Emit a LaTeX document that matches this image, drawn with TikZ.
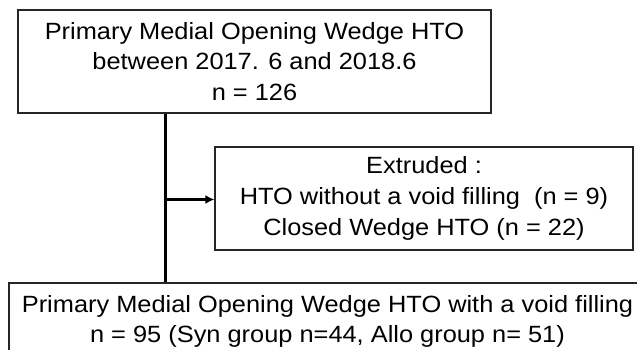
\documentclass[tikz,border=0pt]{standalone}
\usepackage{fontspec}
\setmainfont[FakeStretch=1.08]{Liberation Sans}
\usetikzlibrary{arrows.meta}
\begin{document}
\begin{tikzpicture}[x=1pt,y=1pt,
  box/.style={draw=black!85, line width=1.2pt, align=center, inner sep=0pt,
    font=\fontsize{23.5}{30.8}\selectfont},
  vconn/.style={line width=3pt},
  hconn/.style={line width=3pt}]
\useasboundingbox (0,0) rectangle (637,350);
\clip (0,0) rectangle (637,350);
\node[box, minimum width=473, minimum height=103] (top) at (254.5,288.5)
  {Primary Medial Opening Wedge HTO\\between 2017. 6 and 2018.6\\n = 126};
\node[box, minimum width=418, minimum height=103] (mid) at (424,151.5)
  {Extruded :\\HTO without a void filling\ \ (n = 9)\\Closed Wedge HTO (n = 22)};
\node[box, minimum width=637, minimum height=77] (bot) at (327.5,28.5)
  {Primary Medial Opening Wedge HTO with a void filling\\n = 95 (Syn group n=44, Allo group n= 51)};
\coordinate (j) at (165.5,150.5);
\draw[vconn] (top.south -| j) -- (bot.north -| j);
\draw[hconn, -{Latex[length=9pt,width=9pt]}] (j) -- (mid.west |- j);
\end{tikzpicture}
\end{document}
